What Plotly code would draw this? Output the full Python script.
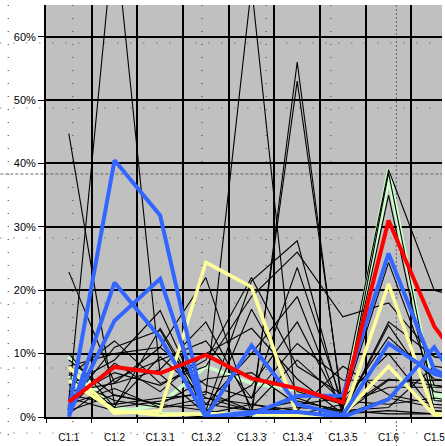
import plotly.graph_objects as go

categories = ["C1.1", "C1.2", "C1.3.1", "C1.3.2", "C1.3.3", "C1.3.4", "C1.3.5", "C1.6", "C1.5", "C1.4"]

# thin black series (percent)
black_series = [
    [44.7, 2.0, 9.5, 3.0, 1.0, 2.5, 1.0, 6.0, 5.0, 4.0],
    [2.6, 77.0, 6.7, 0.5, 2.0, 0.5, 0.3, 3.0, 1.5, 1.0],
    [22.9, 5.4, 11.0, 22.0, 0.5, 3.0, 0.5, 14.5, 4.0, 3.0],
    [3.5, 2.0, 3.0, 3.6, 68.0, 0.4, 2.0, 12.6, 6.0, 5.0],
    [1.0, 3.5, 2.0, 1.0, 0.0, 56.0, 0.6, 15.0, 9.5, 8.0],
    [2.0, 4.5, 1.5, 2.0, 1.0, 53.0, 1.5, 35.0, 1.0, 0.5],
    [5.0, 9.0, 16.8, 1.0, 21.5, 27.8, 1.0, 38.5, 2.6, 2.0],
    [6.5, 12.0, 5.3, 8.0, 19.0, 26.0, 15.8, 18.0, 9.5, 9.0],
    [8.0, 10.0, 11.0, 5.0, 3.0, 23.6, 2.0, 24.4, 5.0, 4.0],
    [7.0, 1.5, 14.0, 2.0, 10.0, 19.0, 0.5, 5.8, 5.8, 5.8],
    [0.5, 6.0, 9.0, 12.0, 3.0, 11.6, 5.8, 5.8, 5.8, 5.8],
    [3.0, 1.0, 0.5, 0.0, 17.0, 4.0, 2.0, 4.7, 4.7, 4.7],
    [9.0, 3.4, 2.0, 6.0, 7.0, 2.0, 3.0, 10.0, 1.0, 0.5],
    [4.0, 5.3, 7.5, 15.0, 1.5, 9.0, 2.5, 2.0, 3.0, 2.0],
    [1.5, 8.5, 4.0, 10.0, 14.0, 6.0, 0.5, 1.0, 0.5, 0.5],
    [6.0, 2.6, 1.5, 3.0, 2.0, 1.0, 8.0, 3.5, 2.0, 1.5],
    [2.0, 11.0, 13.7, 1.0, 5.0, 15.0, 1.0, 1.5, 8.0, 7.0],
    [10.0, 1.5, 2.5, 4.0, 1.0, 1.5, 1.0, 0.5, 0.5, 0.5],
    [3.0, 7.0, 5.0, 9.0, 22.0, 8.0, 3.5, 39.0, 20.0, 18.0],
]

green_series = [
    [9.5, 0.6, 2.0, 8.0, 5.3, 4.2, 2.0, 39.0, 2.6, 6.0],
    [6.5, 1.5, 0.5, 0.5, 0.3, 0.3, 0.3, 37.5, 3.5, 3.0],
]

yellow_series = [
    [7.9, 0.6, 1.0, 24.4, 20.5, 0.3, 0.0, 21.0, 0.5, 0.3],
    [5.8, 1.0, 0.3, 0.5, 0.5, 0.2, 0.3, 8.0, 0.3, 0.3],
]

blue_series = [
    [1.0, 40.5, 31.8, 0.0, 0.5, 3.3, 3.4, 25.8, 7.5, 4.0],
    [0.0, 21.2, 12.5, 0.0, 11.3, 2.0, 0.3, 11.6, 6.8, 5.0],
    [0.5, 15.2, 21.8, 0.0, 0.8, 0.8, 0.0, 2.8, 11.0, 0.0],
]

red_series = [2.4, 7.9, 6.9, 9.8, 6.1, 4.5, 2.3, 31.0, 14.3, 4.5]

y_tick_values = [0, 0.1, 0.2, 0.3, 0.4, 0.5, 0.6]
y_tick_labels = ["0%", "10%", "20%", "30%", "40%", "50%", "60%"]

fig = go.Figure()

def add(vals, color, width):
    fig.add_trace(go.Scatter(
        x=categories, y=[v / 100 for v in vals], mode="lines",
        line=dict(color=color, width=width), hoverinfo="skip", showlegend=False,
    ))

for s in green_series:
    add(s, "#ccffcc", 3.5)
for s in black_series:
    add(s, "#000000", 1.1)
for s in yellow_series:
    add(s, "#ffff99", 3.5)
for s in blue_series:
    add(s, "#3366ff", 4)
add(red_series, "#ff0000", 4)

# plot area in pixels
L, R, T, B = 46, 445, 5, 417
def px(x):
    return (x - L) / (R - L)
def py(y):
    return (B - y) / (B - T)

shapes = []
dot_color = "#555555"
for yy in [43, 108, 238, 303, 368, 433]:
    shapes.append(dict(type="line", xref="paper", yref="paper", x0=px(0), x1=px(445), y0=py(yy), y1=py(yy),
                       line=dict(color=dot_color, width=1.2, dash="1px,12px"), layer="below"))
for xx in [8, 73, 138, 203, 268, 333]:
    shapes.append(dict(type="line", xref="paper", yref="paper", x0=px(xx), x1=px(xx), y0=py(5), y1=py(446),
                       line=dict(color=dot_color, width=1.2, dash="1px,12px"), layer="below"))
# crosshair
shapes.append(dict(type="line", xref="paper", yref="paper", x0=px(0), x1=px(445), y0=py(174), y1=py(174),
                   line=dict(color="#666666", width=1, dash="3px,2px"), layer="below"))
shapes.append(dict(type="line", xref="paper", yref="paper", x0=px(399), x1=px(399), y0=py(5), y1=py(446),
                   line=dict(color="#666666", width=1, dash="2px,2px"), layer="below"))

fig.update_layout(
    width=445, height=446,
    margin=dict(l=L, r=0, t=T, b=446 - B),
    paper_bgcolor="white", plot_bgcolor="#c0c0c0",
    shapes=shapes,
    font=dict(family="Liberation Sans, Arial, sans-serif", color="black"),
)
fig.update_xaxes(
    type="category", categoryorder="array", categoryarray=categories,
    range=[-0.5, 8.17], tickson="boundaries",
    showgrid=True, gridcolor="black", gridwidth=1.5,
    ticks="outside", ticklen=4, tickcolor="black",
    showline=True, linecolor="black", linewidth=2,
    tickfont=dict(size=10), ticklabelstandoff=10, zeroline=False,
)
fig.update_yaxes(
    range=[0, 0.65], tickvals=y_tick_values, ticktext=y_tick_labels,
    showgrid=True, gridcolor="black", gridwidth=1.5,
    ticks="outside", ticklen=6, tickcolor="black",
    showline=True, linecolor="black", linewidth=2,
    tickfont=dict(size=11), zeroline=False,
)

fig.write_html(
    "out.html",
    config={"displayModeBar": False},
    post_script="document.body.style.margin='0';document.body.style.overflow='hidden';",
)
